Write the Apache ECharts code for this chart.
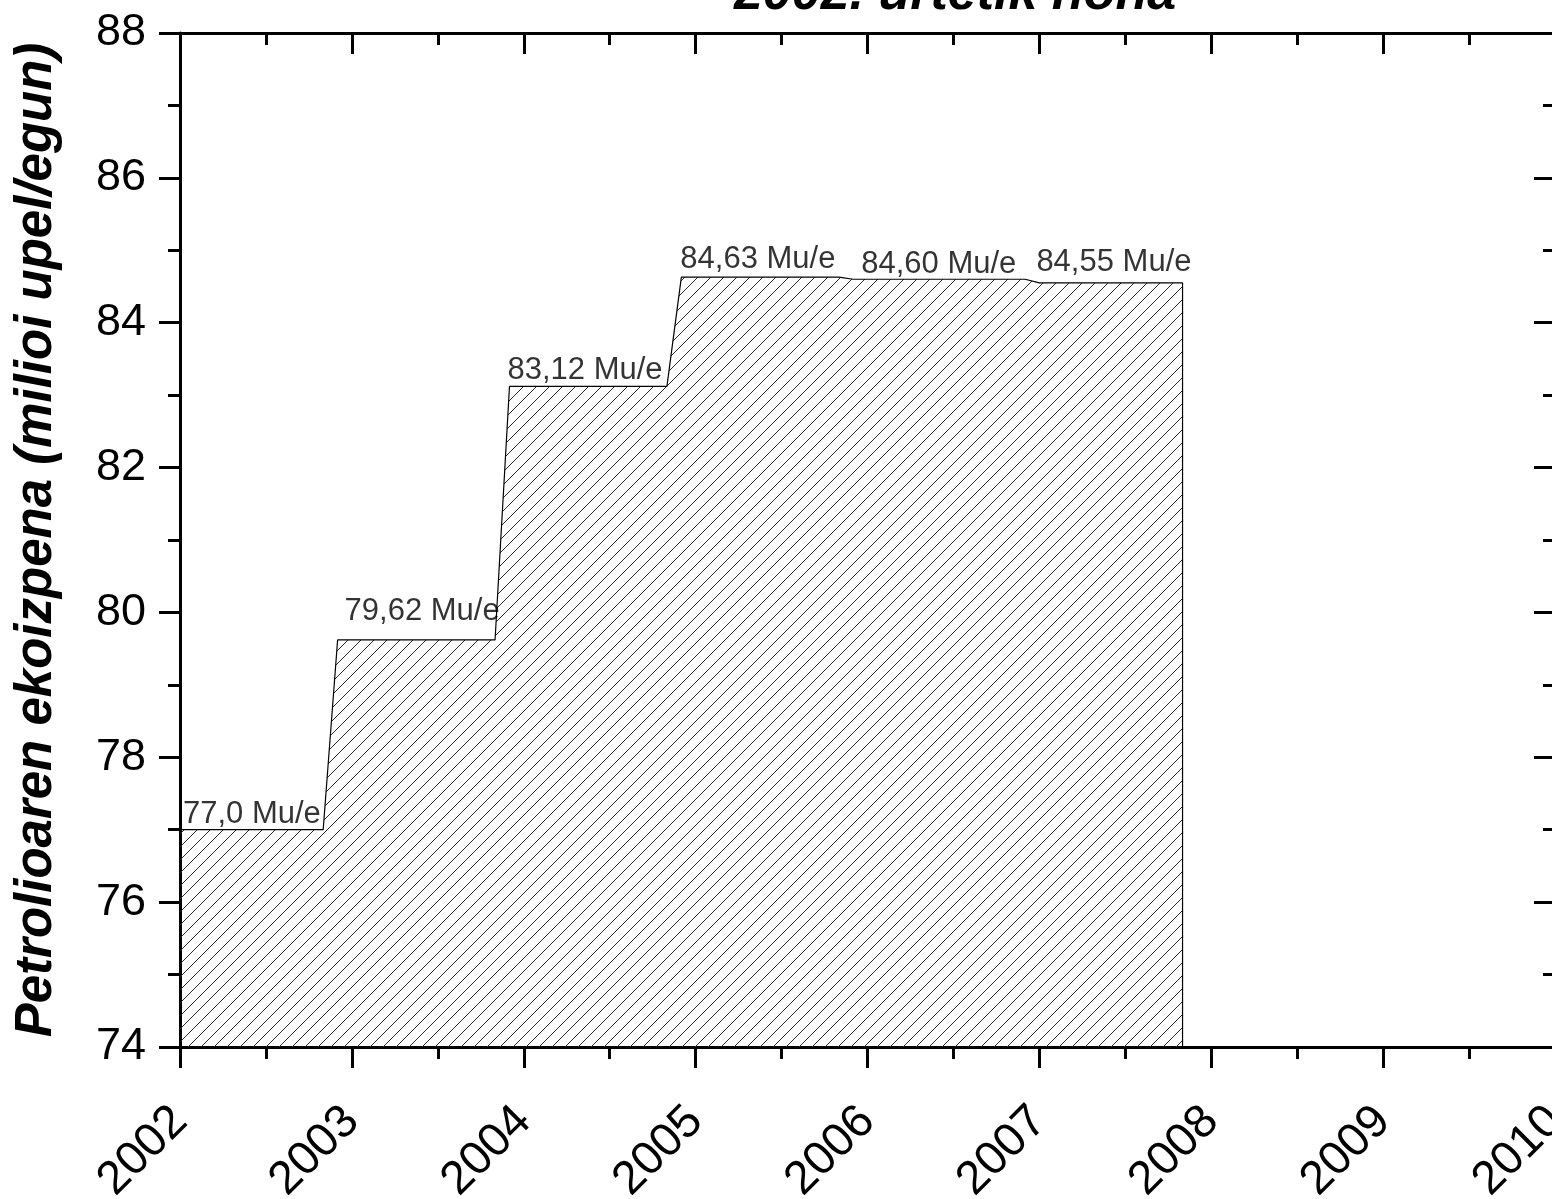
<!DOCTYPE html>
<html>
<head>
<meta charset="utf-8">
<script src="https://cdn.jsdelivr.net/npm/echarts@6/dist/echarts.min.js"></script>
<style>
  html, body { margin: 0; padding: 0; background: #ffffff; }
  #chart { width: 1552px; height: 1199px; }
</style>
</head>
<body>
<div id="chart"></div>
<script>
// World oil production, yearly levels since 2002 (million barrels per day)
const titleText = '2002. urtetik hona';
const yAxisTitle = 'Petrolioaren ekoizpena (milioi upel/egun)';
const yearTicks = [2002, 2003, 2004, 2005, 2006, 2007, 2008, 2009, 2010];
const levelStart = [2002.0, 2002.917, 2003.917, 2004.917, 2005.917, 2007.0];
const levelEnd   = [2002.833, 2003.833, 2004.833, 2005.833, 2006.917, 2007.833];
const levelValue = [77.0, 79.62, 83.12, 84.63, 84.60, 84.55];
const labelDecimals = [1, 2, 2, 2, 2, 2];
const labelUnit = 'Mu/e';
const yMin = 74, yMax = 88, yStep = 2;

const FONT = '"Liberation Sans", Arial, Helvetica, sans-serif';

// Diagonal "/" hatching tile
function hatchTile(size) {
  const c = document.createElement('canvas');
  c.width = size; c.height = size;
  const g = c.getContext('2d');
  g.strokeStyle = '#2a2a2a';
  g.lineWidth = 1;
  g.beginPath();
  g.moveTo(-1, size + 1); g.lineTo(size + 1, -1);
  g.moveTo(-1, 1); g.lineTo(1, -1);
  g.moveTo(size - 1, size + 1); g.lineTo(size + 1, size - 1);
  g.stroke();
  return c;
}

// Outline of the stepped area: each level as a flat run, closed down to the axis floor
const outline = [];
levelValue.forEach((v, i) => {
  outline.push([levelStart[i], v]);
  outline.push([levelEnd[i], v]);
});
outline.push([levelEnd[levelEnd.length - 1], yMin]);

// Per-label pixel nudges relative to the start of its level
const labelNudge = [[3, 0], [7, -13], [-2, 0], [-1, -2], [8, 1], [-3, -5]];

const labelPoints = levelValue.map((v, i) => ({
  value: [levelStart[i], v],
  label: {
    offset: labelNudge[i],
    formatter: v.toFixed(labelDecimals[i]).replace('.', ',') + ' ' + labelUnit
  }
}));

const axisColor = '#000000';
const baseAxis = {
  axisLine: { show: true, lineStyle: { color: axisColor, width: 3 } },
  splitLine: { show: false },
  minorSplitLine: { show: false }
};

const chart = echarts.init(document.getElementById('chart'), null, { renderer: 'canvas' });
chart.setOption({
  backgroundColor: '#ffffff',
  animation: false,
  title: {
    text: titleText,
    left: 950,
    textAlign: 'center',
    top: -36,
    textStyle: { fontFamily: FONT, fontSize: 52, fontWeight: 'bold', fontStyle: 'italic', color: '#000' }
  },
  grid: { left: 180, top: 33, width: 1375, height: 1014, containLabel: false, outerBoundsMode: 'none' },
  xAxis: [
    Object.assign({}, baseAxis, {
      type: 'value', position: 'bottom',
      min: yearTicks[0], max: yearTicks[yearTicks.length - 1], interval: 1,
      axisTick: { show: true, inside: false, length: 21, lineStyle: { color: axisColor, width: 3 } },
      minorTick: { show: true, splitNumber: 2, length: 12, lineStyle: { color: axisColor, width: 3 } },
      axisLabel: {
        show: true, rotate: 45, margin: 67, fontSize: 47, fontFamily: FONT, color: '#000',
        formatter: v => String(v)
      }
    }),
    Object.assign({}, baseAxis, {
      type: 'value', position: 'top',
      min: yearTicks[0], max: yearTicks[yearTicks.length - 1], interval: 1,
      axisTick: { show: true, inside: true, length: 21, lineStyle: { color: axisColor, width: 3 } },
      minorTick: { show: true, splitNumber: 2, length: 12, lineStyle: { color: axisColor, width: 3 } },
      axisLabel: { show: false }
    })
  ],
  yAxis: [
    Object.assign({}, baseAxis, {
      type: 'value', position: 'left',
      min: yMin, max: yMax, interval: yStep,
      name: yAxisTitle, nameLocation: 'middle', nameGap: 118, nameRotate: 90,
      nameTextStyle: { fontFamily: FONT, fontSize: 51, fontWeight: 'bold', fontStyle: 'italic', color: '#000' },
      axisTick: { show: true, inside: false, length: 21, lineStyle: { color: axisColor, width: 3 } },
      minorTick: { show: true, splitNumber: 2, length: 12, lineStyle: { color: axisColor, width: 3 } },
      axisLabel: { show: true, margin: 34, fontSize: 45, fontFamily: FONT, color: '#000' }
    }),
    Object.assign({}, baseAxis, {
      type: 'value', position: 'right',
      min: yMin, max: yMax, interval: yStep,
      axisTick: { show: true, inside: true, length: 21, lineStyle: { color: axisColor, width: 3 } },
      minorTick: { show: true, splitNumber: 2, length: 12, lineStyle: { color: axisColor, width: 3 } },
      axisLabel: { show: false }
    })
  ],
  series: [
    {
      type: 'line',
      data: outline,
      showSymbol: false,
      symbol: 'none',
      lineStyle: { color: '#000', width: 1.2 },
      areaStyle: { origin: 'start', color: { image: hatchTile(13), repeat: 'repeat' }, opacity: 1 },
      z: 2
    },
    {
      type: 'scatter',
      data: labelPoints,
      symbolSize: 0,
      silent: true,
      label: {
        show: true, position: [0, 0], align: 'left', verticalAlign: 'bottom',
        fontFamily: FONT, fontSize: 31, color: '#000', textBorderWidth: 0
      },
      z: 3
    }
  ]
});
</script>
</body>
</html>
